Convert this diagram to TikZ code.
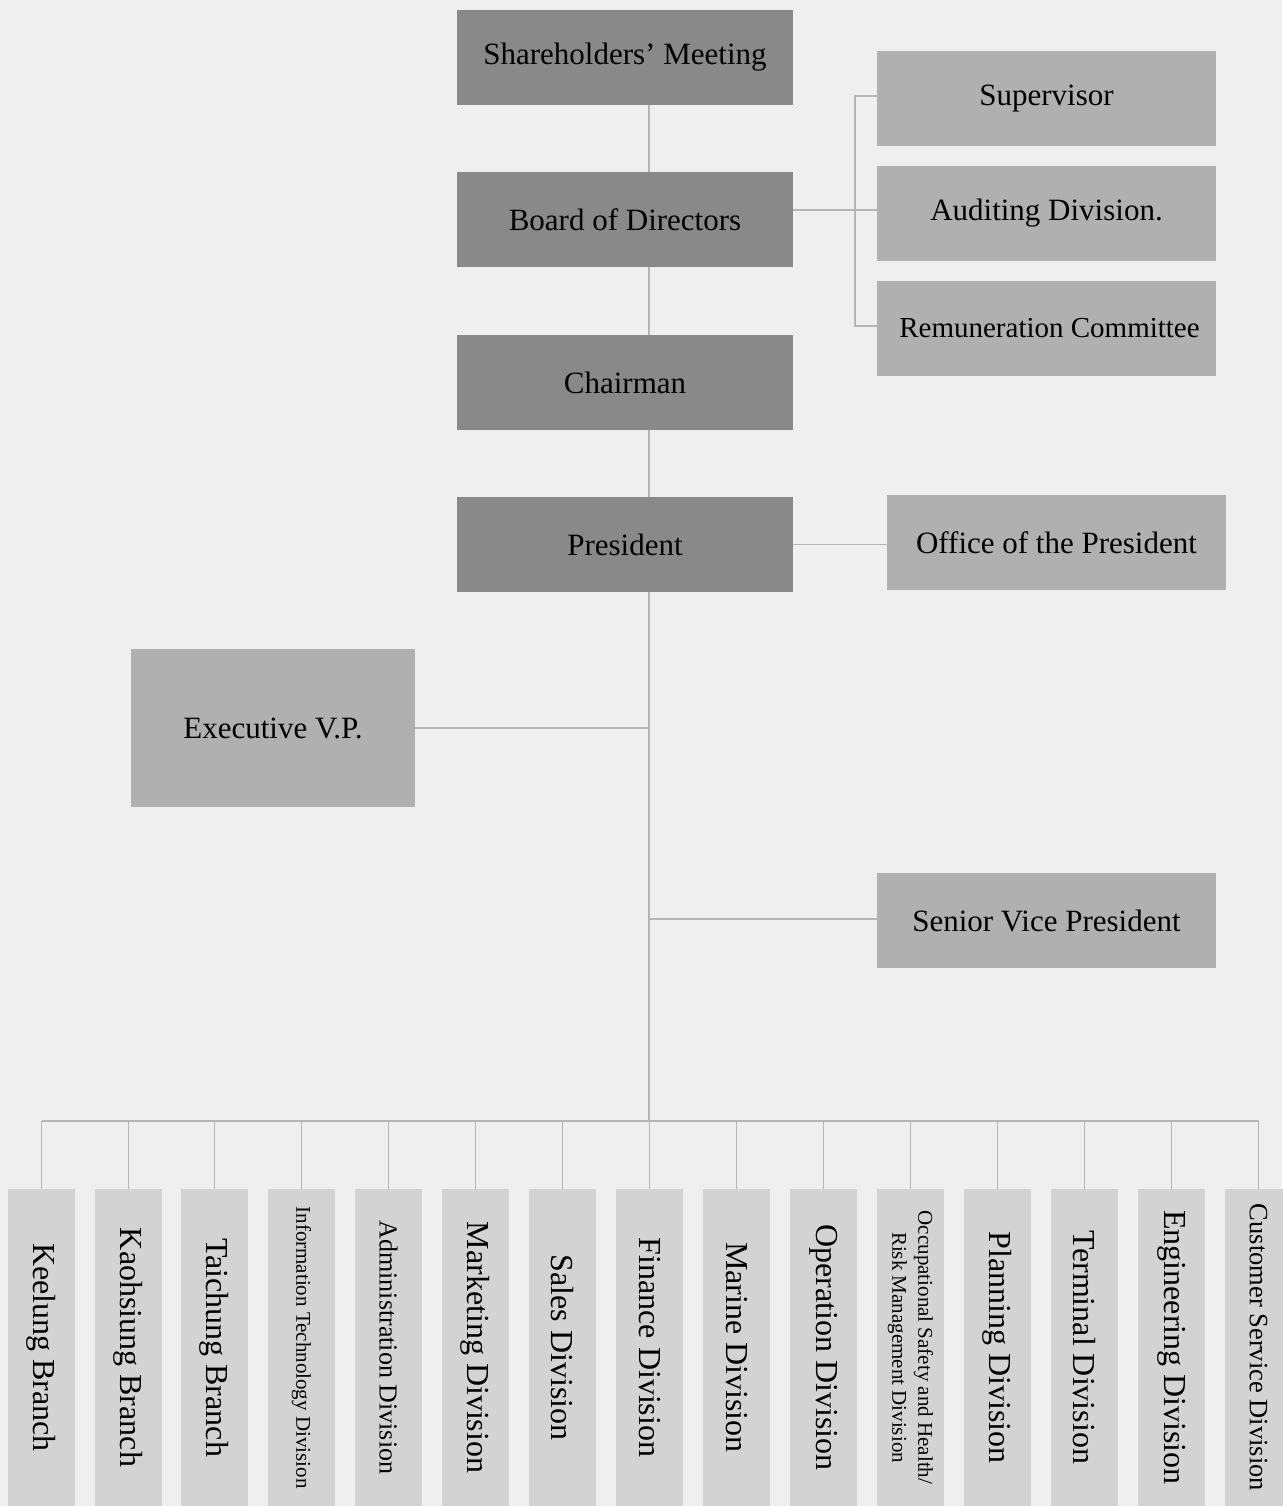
\documentclass[tikz,border=0pt]{standalone}
\usepackage{fontspec}
\setmainfont{Liberation Serif}
\definecolor{bgc}{HTML}{EFEFEF}
\definecolor{topc}{HTML}{898989}
\definecolor{sidec}{HTML}{B0B0B0}
\definecolor{unitc}{HTML}{D3D3D3}
\definecolor{linec}{HTML}{B5B5B5}
\pgfdeclarelayer{bglayer}
\pgfdeclarelayer{linelayer}
\pgfsetlayers{bglayer,linelayer,main}
\tikzset{
  topbox/.style={fill=topc, minimum width=336pt, minimum height=95pt, inner sep=0pt, font=\fontsize{31pt}{37pt}\selectfont},
  sidebox/.style={fill=sidec, minimum width=339pt, minimum height=95pt, inner sep=0pt, font=\fontsize{31pt}{37pt}\selectfont},
  unitbox/.style={fill=unitc, rotate=-90, minimum width=317pt, minimum height=67pt, inner sep=0pt, font=\fontsize{32pt}{38pt}\selectfont},
  conn/.style={draw=linec, line width=1.6pt}
}
\begin{document}
\begin{tikzpicture}[x=1pt,y=-1pt]
\useasboundingbox (0,0) rectangle (1282,1506);
\begin{pgfonlayer}{bglayer}
\fill[bgc] (0,0) rectangle (1282,1506);
\end{pgfonlayer}
% top chain
\node[topbox] (share) at (625,57.5) {Shareholders’ Meeting};
\node[topbox] (board) at (625,219.5) {Board of Directors};
\node[topbox] (chair) at (625,382.5) {Chairman};
\node[topbox] (pres) at (625,544.5) {President};
% side boxes
\node[sidebox] (sup) at (1046.5,98.5) {Supervisor};
\node[sidebox] (aud) at (1046.5,213.5) {Auditing Division.};
\node[sidebox, font=\fontsize{29pt}{35pt}\selectfont] (rem) at (1046.5,328.5) {\hspace*{6pt}Remuneration Committee};
\node[sidebox] (off) at (1056.5,542.5) {Office of the President};
\node[sidebox, minimum width=284pt, minimum height=158pt] (evp) at (273,728) {Executive V.P.};
\node[sidebox] (svp) at (1046.5,920.5) {Senior Vice President};
% bottom units
\node[unitbox] (u1) at (41.5,1347.5) {Keelung Branch};
\node[unitbox] (u2) at (128.5,1347.5) {Kaohsiung Branch};
\node[unitbox] (u3) at (214.5,1347.5) {Taichung Branch};
\node[unitbox, font=\fontsize{21pt}{25pt}\selectfont] (u4) at (301.5,1347.5) {Information Technology Division};
\node[unitbox, font=\fontsize{26pt}{31pt}\selectfont] (u5) at (388.5,1347.5) {Administration Division};
\node[unitbox] (u6) at (475.5,1347.5) {Marketing Division};
\node[unitbox] (u7) at (562.5,1347.5) {Sales Division};
\node[unitbox] (u8) at (649.5,1347.5) {Finance Division};
\node[unitbox] (u9) at (736.5,1347.5) {Marine Division};
\node[unitbox] (u10) at (823.5,1347.5) {Operation Division};
\node[unitbox, align=center, font=\fontsize{21pt}{26pt}\selectfont] (u11) at (910.5,1347.5) {Occupational Safety and Health/\\Risk Management Division};
\node[unitbox] (u12) at (997.5,1347.5) {Planning Division};
\node[unitbox] (u13) at (1084.5,1347.5) {Terminal Division};
\node[unitbox] (u14) at (1171.5,1347.5) {Engineering Division};
\node[unitbox, font=\fontsize{26.5pt}{31pt}\selectfont] (u15) at (1258.5,1347.5) {Customer Service Division};
% connectors
\coordinate (bus) at (649,1121);
\coordinate (bt) at (855,96);
\coordinate (bm) at (855,210);
\coordinate (bb) at (855,326);
\begin{pgfonlayer}{linelayer}
\draw[conn] (share.south -| bus) -- (bus);
\draw[conn] (board.east |- bm) -- (aud.west |- bm);
\draw[conn] (sup.west |- bt) -- (bt) -- (bb) -- (rem.west |- bb);
\draw[conn] (pres.east) -- (off.west |- pres.east);
\draw[conn] (evp.east) -- (evp.east -| bus);
\draw[conn] (svp.west |- 0,919) -- (bus |- 0,919);
\draw[conn] (u1.west |- bus) -- (u15.west |- bus);
\foreach \u in {u1,u2,u3,u4,u5,u6,u7,u8,u9,u10,u11,u12,u13,u14,u15}{
  \draw[conn] (\u.west) -- (\u.west |- bus);
}
\end{pgfonlayer}
\end{tikzpicture}
\end{document}
